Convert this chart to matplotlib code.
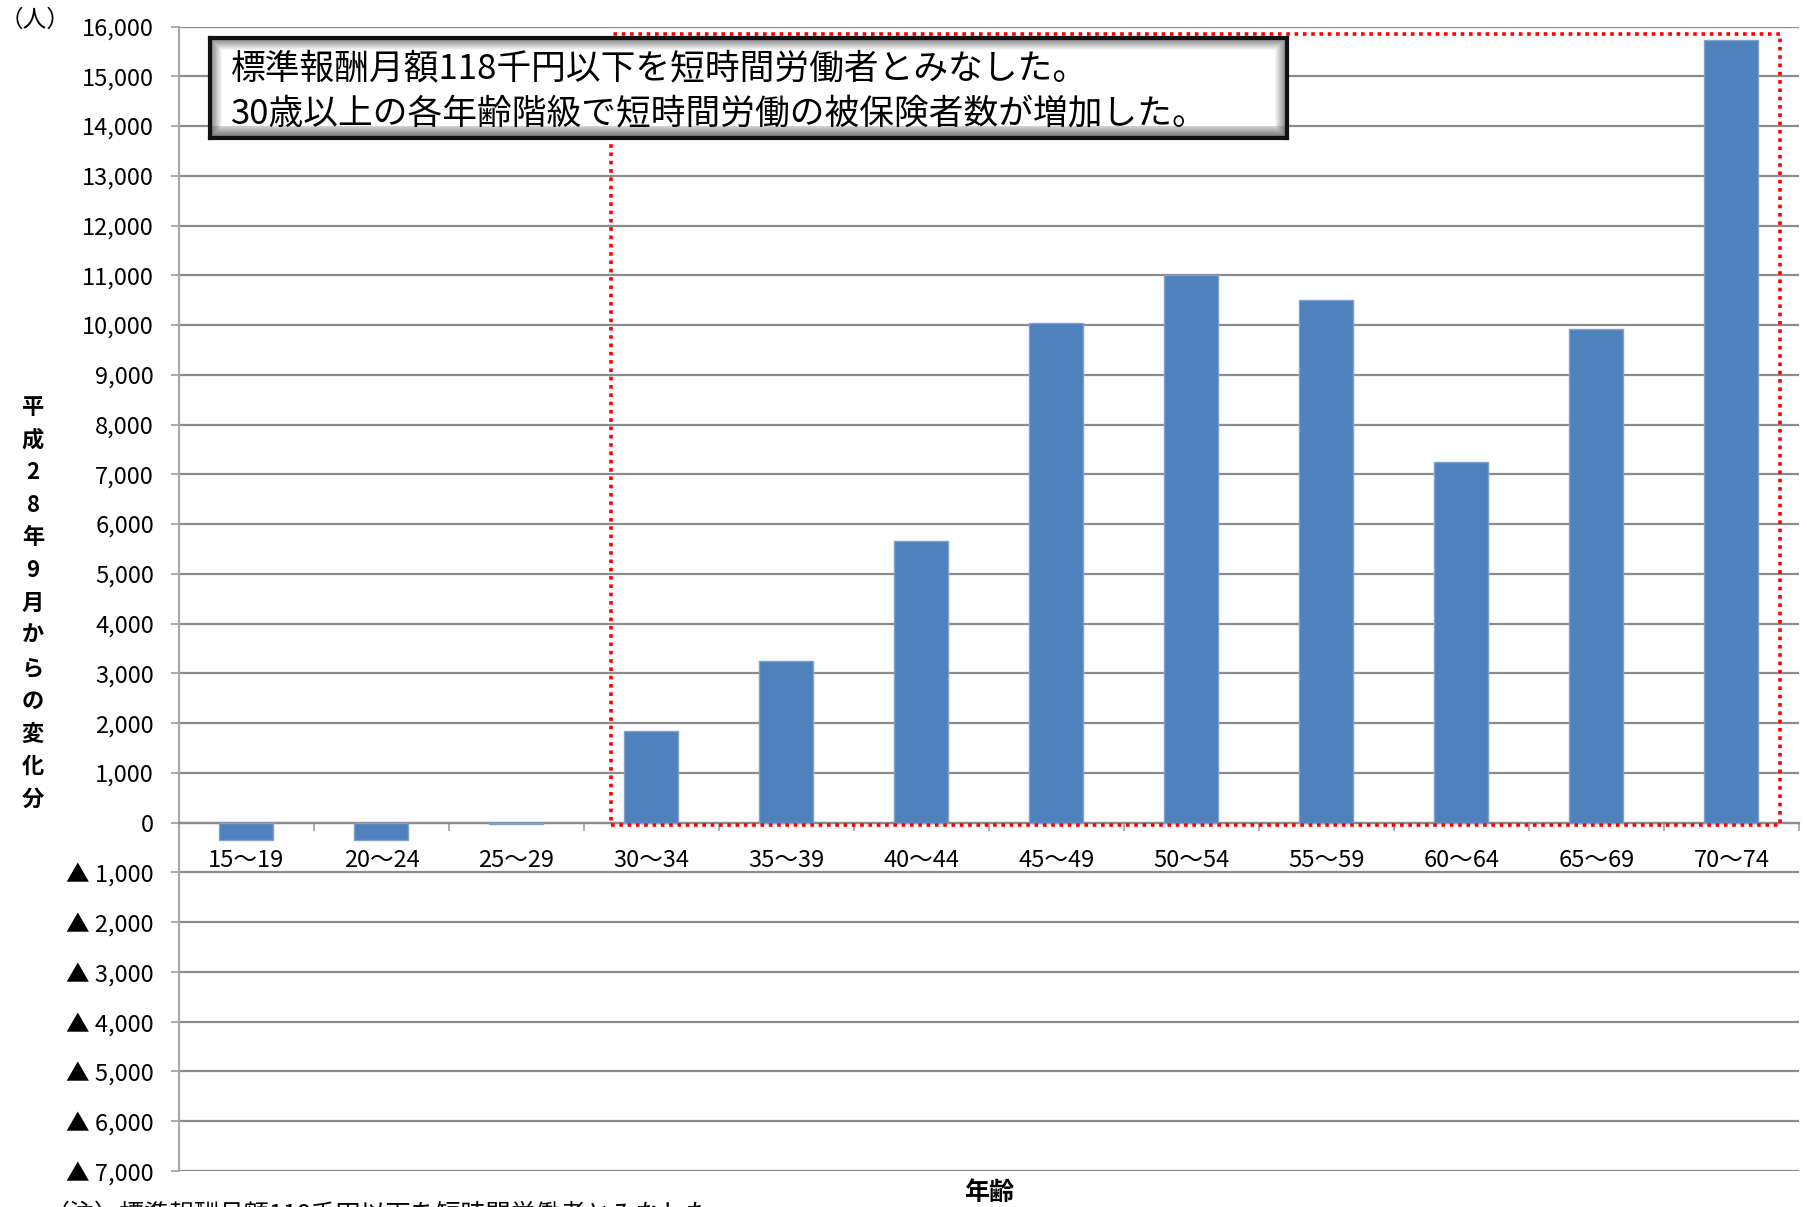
import numpy as np
import matplotlib

matplotlib.use("Agg")
import matplotlib.pyplot as plt
from matplotlib.patches import Rectangle
from matplotlib.ticker import FixedLocator, FuncFormatter

plt.rcParams["font.family"] = ["Noto Sans CJK JP", "DejaVu Sans"]

# 年齢階級別の短時間労働被保険者数（平成28年9月からの変化分）
age_groups = ["15〜19", "20〜24", "25〜29", "30〜34", "35〜39", "40〜44",
              "45〜49", "50〜54", "55〜59", "60〜64", "65〜69", "70〜74"]
change = [-350, -350, -25, 1850, 3250, 5670, 10050, 11000, 10500, 7250, 9920, 15720]

y_ticks = list(range(-7000, 16001, 1000))
note_lines = ["標準報酬月額118千円以下を短時間労働者とみなした。",
              "30歳以上の各年齢階級で短時間労働の被保険者数が増加した。"]
ylabel_text = "平成28年9月からの変化分"

W, H = 1808, 1207
fig = plt.figure(figsize=(W / 100, H / 100), dpi=100)
fig.patch.set_facecolor("white")

ax = fig.add_axes([179 / W, 1 - 1171 / H, (1799 - 179) / W, (1171 - 26.5) / H])
x = np.arange(len(age_groups))
ax.bar(x, change, width=0.4, color="#4F81BD", edgecolor="#7FA1CF", linewidth=1, zorder=3)

ax.set_xlim(-0.5, len(age_groups) - 0.5)
ax.set_ylim(-7000, 16000)

grid_c = "#8c8c8c"
ax.yaxis.set_major_locator(FixedLocator(y_ticks))
ax.yaxis.set_major_formatter(FuncFormatter(
    lambda v, _: "0" if v == 0 else (f"{v:,.0f}" if v > 0 else f"▲ {abs(v):,.0f}")))
ax.yaxis.grid(True, color=grid_c, linewidth=1.6, zorder=0)
ax.set_axisbelow(True)
ax.tick_params(axis="y", labelsize=17, length=6, width=1.3, color="#a6a6a6", pad=12)

# category boundaries as ticks, labels at centres
ax.xaxis.set_major_locator(FixedLocator(np.arange(-0.5, len(age_groups), 1)))
ax.xaxis.set_major_formatter(FuncFormatter(lambda v, _: ""))
ax.xaxis.set_minor_locator(FixedLocator(x))
ax.set_xticklabels(age_groups, minor=True)
ax.tick_params(axis="x", which="major", length=6, width=1.3, color="#a6a6a6", direction="out")
ax.tick_params(axis="x", which="minor", length=0, labelsize=17, pad=19)

ax.spines["bottom"].set_position(("data", 0))
ax.spines["bottom"].set_color(grid_c)
ax.spines["bottom"].set_linewidth(1.6)
ax.spines["left"].set_color("#a6a6a6")
ax.spines["left"].set_linewidth(1.5)
ax.spines["top"].set_visible(False)
ax.spines["right"].set_visible(False)

# highlighted range (30歳以上)
ax.add_patch(Rectangle((2.70, -40), 11.36 - 2.70, 15855 + 40, fill=False,
                       edgecolor="red", linewidth=2.6, linestyle=(0, (1, 1.3)),
                       zorder=4, clip_on=False))

# bevelled note box
bx0, by0, bx1, by1 = 210, 38, 1287, 138
box = fig.add_axes([bx0 / W, 1 - by1 / H, (bx1 - bx0) / W, (by1 - by0) / H], zorder=5)
bw, bh = bx1 - bx0, by1 - by0
yy, xx = np.mgrid[0:bh, 0:bw]
bev = 12
d = np.minimum.reduce([xx, bw - 1 - xx, yy, bh - 1 - yy]).astype(float)
shade = np.ones((bh, bw))
edge = d < bev
shade[edge] = 0.5 + 0.5 * (d[edge] / bev)
bottom_edge = (bh - 1 - yy) < bev
shade[bottom_edge & edge] *= 0.85
box.imshow(shade, cmap="gray", vmin=0, vmax=1, aspect="auto", interpolation="bilinear")
box.set_xticks([])
box.set_yticks([])
for s in box.spines.values():
    s.set_linewidth(3)
    s.set_color("#111111")
fig.text(231 / W, 1 - 69 / H, note_lines[0], fontsize=25, va="center", ha="left", zorder=6)
fig.text(231 / W, 1 - 115 / H, note_lines[1], fontsize=25, va="center", ha="left", zorder=6)

# stacked vertical y-axis title
step = 32.7
for i, ch in enumerate(ylabel_text):
    fig.text(33 / W, 1 - (407 + i * step) / H, ch, fontsize=16, fontweight="bold",
             ha="center", va="center")

fig.text(35 / W, 1 - 20 / H, "（人）", fontsize=17, ha="center", va="center")
fig.text(989 / W, 1 - 1193 / H, "年齢", fontsize=18, fontweight="bold", ha="center", va="center")
fig.text(45 / W, 1 - 1202 / H, "（注）標準報酬月額118千円以下を短時間労働者とみなした。",
         fontsize=18, ha="left", va="top")

fig.savefig("out.png", dpi=100, facecolor="white")
plt.close(fig)
